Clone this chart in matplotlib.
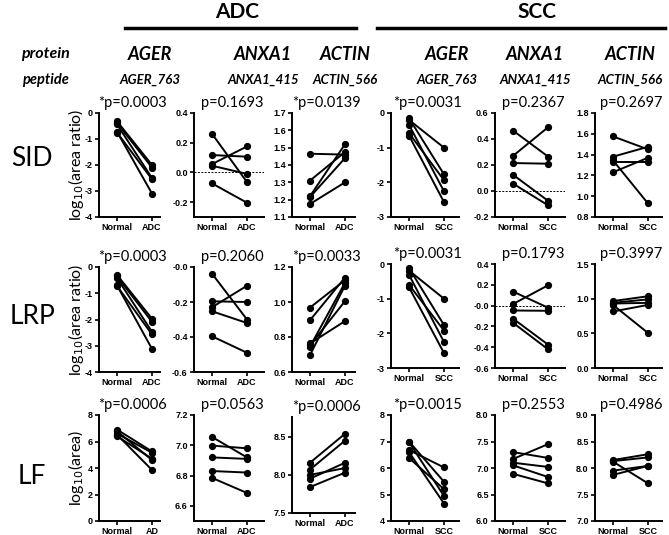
import matplotlib.pyplot as plt

# ---- data ----
groups = ["ADC", "SCC"]
proteins = ["AGER", "ANXA1", "ACTIN", "AGER", "ANXA1", "ACTIN"]
peptides = ["AGER_763", "ANXA1_415", "ACTIN_566", "AGER_763", "ANXA1_415", "ACTIN_566"]
methods = ["SID", "LRP", "LF"]

# SID, log10(area ratio)
sid_adc_ager_n = [-0.32, -0.38, -0.44, -0.72, -0.75]
sid_adc_ager_t = [-2.0, -2.1, -2.5, -3.1, -2.55]
sid_adc_anxa1_n = [0.26, 0.117, 0.056, 0.045, -0.074]
sid_adc_anxa1_t = [-0.065, 0.106, 0.175, -0.01, -0.204]
sid_adc_actin_n = [1.465, 1.31, 1.22, 1.215, 1.175]
sid_adc_actin_t = [1.46, 1.475, 1.52, 1.44, 1.30]
sid_scc_ager_n = [-0.15, -0.2, -0.34, -0.58, -0.65]
sid_scc_ager_t = [-1.77, -1.0, -2.26, -1.94, -2.57]
sid_scc_anxa1_n = [0.465, 0.27, 0.215, 0.125, 0.057]
sid_scc_anxa1_t = [0.265, 0.49, 0.21, -0.075, -0.11]
sid_scc_actin_n = [1.575, 1.38, 1.345, 1.33, 1.23]
sid_scc_actin_t = [1.45, 1.475, 0.93, 1.33, 1.37]

# LRP, log10(area ratio)
lrp_adc_ager_n = [-0.30, -0.36, -0.42, -0.70, -0.72]
lrp_adc_ager_t = [-1.97, -2.09, -2.47, -3.12, -2.57]
lrp_adc_anxa1_n = [-0.038, -0.196, -0.23, -0.253, -0.396]
lrp_adc_anxa1_t = [-0.30, -0.20, -0.107, -0.32, -0.49]
lrp_adc_actin_n = [0.968, 0.896, 0.763, 0.752, 0.745, 0.697]
lrp_adc_actin_t = [1.125, 1.14, 0.891, 1.005, 1.11, 1.094]
lrp_scc_ager_n = [-0.12, -0.19, -0.31, -0.60, -0.67]
lrp_scc_ager_t = [-1.76, -1.0, -2.25, -1.92, -2.57]
lrp_scc_anxa1_n = [0.135, 0.015, -0.047, -0.125, -0.165]
lrp_scc_anxa1_t = [-0.02, 0.195, -0.05, -0.375, -0.42]
lrp_scc_actin_n = [0.965, 0.94, 0.93, 0.91, 0.815]
lrp_scc_actin_t = [1.035, 0.99, 0.94, 0.505, 0.91]

# LF, log10(area)
lf_adc_ager_n = [6.9, 6.78, 6.6, 6.52, 6.4]
lf_adc_ager_t = [5.25, 4.6, 5.15, 3.85, 4.7]
lf_adc_anxa1_n = [7.055, 6.998, 6.92, 6.83, 6.785]
lf_adc_anxa1_t = [6.92, 6.98, 6.91, 6.82, 6.685]
lf_adc_actin_n = [8.16, 8.07, 8.0, 7.95, 7.84]
lf_adc_actin_t = [8.54, 8.45, 8.09, 8.16, 8.03]
lf_scc_ager_n = [7.0, 6.98, 6.68, 6.6, 6.38]
lf_scc_ager_t = [5.48, 4.94, 6.02, 4.66, 5.2]
lf_scc_anxa1_n = [7.3, 7.17, 7.1, 7.05, 6.89]
lf_scc_anxa1_t = [7.19, 7.45, 7.02, 6.83, 6.71]
lf_scc_actin_n = [8.15, 8.13, 8.12, 7.95, 7.87]
lf_scc_actin_t = [8.26, 8.2, 7.71, 8.04, 8.04]

pvals = [
    ["*p=0.0003", "p=0.1693", "*p=0.0139", "*p=0.0031", "p=0.2367", "p=0.2697"],
    ["*p=0.0003", "p=0.2060", "*p=0.0033", "*p=0.0031", "p=0.1793", "p=0.3997"],
    ["*p=0.0006", "p=0.0563", "*p=0.0006", "*p=0.0015", "p=0.2553", "p=0.4986"],
]
xlabels = [
    [["Normal", "ADC"]] * 3 + [["Normal", "SCC"]] * 3,
    [["Normal", "ADC"]] * 3 + [["Normal", "SCC"]] * 3,
    [["Normal", "AD"], ["Normal", "ADC"], ["Normal", "ADC"]] + [["Normal", "SCC"]] * 3,
]
yticks = [
    [["0", "-1", "-2", "-3", "-4"], ["0.4", "0.2", "0.0", "-0.2"],
     ["1.1", "1.2", "1.3", "1.4", "1.5", "1.6", "1.7"], ["0", "-1", "-2", "-3"],
     ["0.6", "0.4", "0.2", "0.0", "-0.2"], ["0.8", "1.0", "1.2", "1.4", "1.6", "1.8"]],
    [["0", "-1", "-2", "-3", "-4"], ["-0.0", "-0.2", "-0.4", "-0.6"],
     ["0.6", "0.8", "1.0", "1.2"], ["0", "-1", "-2", "-3"],
     ["0.4", "0.2", "-0.0", "-0.2", "-0.4", "-0.6"], ["0.0", "0.5", "1.0", "1.5"]],
    [["0", "2", "4", "6", "8"], ["6.6", "6.8", "7.0", "7.2"], ["7.5", "8.0", "8.5"],
     ["4", "5", "6", "7", "8"], ["6.0", "6.5", "7.0", "7.5", "8.0"],
     ["7.0", "7.5", "8.0", "8.5", "9.0"]],
]
ylims = [
    [(-4, 0), (-0.3, 0.4), (1.1, 1.7), (-3, 0), (-0.2, 0.6), (0.8, 1.8)],
    [(-4, 0), (-0.6, 0), (0.6, 1.2), (-3, 0), (-0.6, 0.4), (0, 1.5)],
    [(0, 8), (6.5, 7.2), (7.5, 8.76), (4, 8), (6, 8), (7, 9)],
]
ylabels = ["log$_{10}$(area ratio)", "log$_{10}$(area ratio)", "log$_{10}$(area)"]

data = [
    [(sid_adc_ager_n, sid_adc_ager_t), (sid_adc_anxa1_n, sid_adc_anxa1_t), (sid_adc_actin_n, sid_adc_actin_t),
     (sid_scc_ager_n, sid_scc_ager_t), (sid_scc_anxa1_n, sid_scc_anxa1_t), (sid_scc_actin_n, sid_scc_actin_t)],
    [(lrp_adc_ager_n, lrp_adc_ager_t), (lrp_adc_anxa1_n, lrp_adc_anxa1_t), (lrp_adc_actin_n, lrp_adc_actin_t),
     (lrp_scc_ager_n, lrp_scc_ager_t), (lrp_scc_anxa1_n, lrp_scc_anxa1_t), (lrp_scc_actin_n, lrp_scc_actin_t)],
    [(lf_adc_ager_n, lf_adc_ager_t), (lf_adc_anxa1_n, lf_adc_anxa1_t), (lf_adc_actin_n, lf_adc_actin_t),
     (lf_scc_ager_n, lf_scc_ager_t), (lf_scc_anxa1_n, lf_scc_anxa1_t), (lf_scc_actin_n, lf_scc_actin_t)],
]

# ---- layout (pixels) ----
W, H = 669, 535
fig = plt.figure(figsize=(W / 100, H / 100), dpi=100)
TXT = ["Lato", "DejaVu Sans"]
TICK = ["Liberation Sans", "DejaVu Sans"]

col_left = [99, 194, 292, 391, 495, 595]
col_width = [61, 70, 63, 68, 70, 67]
row_span = [
    [(113, 217)] * 6,
    [(267, 372)] * 3 + [(264, 368)] * 3,
    [(415, 521), (415, 521), (417, 513), (415, 521), (415, 521), (415, 521)],
]
dashed_zero = {(0, 1), (0, 4), (1, 4)}

def px(x, y):
    return x / W, 1 - y / H

for r in range(3):
    for c in range(6):
        top, bot = row_span[r][c]
        ax = fig.add_axes([col_left[c] / W, 1 - bot / H, col_width[c] / W, (bot - top) / H])
        n_vals, t_vals = data[r][c]
        for a, b in zip(n_vals, t_vals):
            ax.plot([0, 1], [a, b], color="black", lw=1.4, marker="o", ms=4.2, clip_on=False, zorder=3)
        if (r, c) in dashed_zero:
            ax.axhline(0, color="black", lw=0.7, ls=(0, (2, 1.5)), zorder=1)
        ax.set_xlim(-18 / 35, (col_width[c] - 18) / 35)
        ax.set_ylim(*ylims[r][c])
        labels = yticks[r][c]
        ax.set_yticks([float(v) for v in labels])
        ax.set_yticklabels(labels)
        ax.set_xticks([0, 1])
        ax.set_xticklabels(xlabels[r][c])
        for s in ("top", "right"):
            ax.spines[s].set_visible(False)
        for s in ("left", "bottom"):
            ax.spines[s].set_linewidth(1.4)
        ax.tick_params(length=3, width=1.2, pad=1.5)
        for lab in ax.get_xticklabels() + ax.get_yticklabels():
            lab.set_fontfamily(TICK)
            lab.set_fontweight("bold")
            lab.set_fontsize(6.5)
        ax.patch.set_alpha(0)
        cx = col_left[c] + col_width[c] / 2 + 3
        fig.text(*px(cx, top - 10), pvals[r][c], ha="center", va="center", fontsize=10.5, family=TXT)

# headers
for g, xc, x0, x1 in [(groups[0], 237, 125, 356), (groups[1], 537, 377, 665)]:
    fig.text(*px(xc, 12), g, ha="center", va="center", fontsize=15, fontweight="bold", family=TXT)
    fig.add_artist(plt.Line2D([x0 / W, x1 / W], [1 - 28 / H, 1 - 28 / H], color="black", lw=2.5))

fig.text(*px(45, 54), "protein", ha="center", va="center", fontsize=11.5,
         fontweight="bold", style="italic", family=TXT)
fig.text(*px(45, 80), "peptide", ha="center", va="center", fontsize=10.5,
         fontweight="bold", style="italic", family=TXT)
prot_x = [150, 263, 345, 447, 535, 630]
for name, pep, x in zip(proteins, peptides, prot_x):
    fig.text(*px(x, 54), name, ha="center", va="center", fontsize=13,
             fontweight="bold", style="italic", family=TXT)
    fig.text(*px(x, 80), pep, ha="center", va="center", fontsize=9.5,
             fontweight="bold", style="italic", family=TXT)

for m, y in zip(methods, [158, 316, 476]):
    fig.text(*px(32, y), m, ha="center", va="center", fontsize=19, family=TXT)

for lab, y in zip(ylabels, [165, 320, 468]):
    fig.text(*px(76, y), lab, ha="center", va="center", rotation=90, fontsize=11.5, family=TXT)

fig.savefig("out.png", dpi=100)
